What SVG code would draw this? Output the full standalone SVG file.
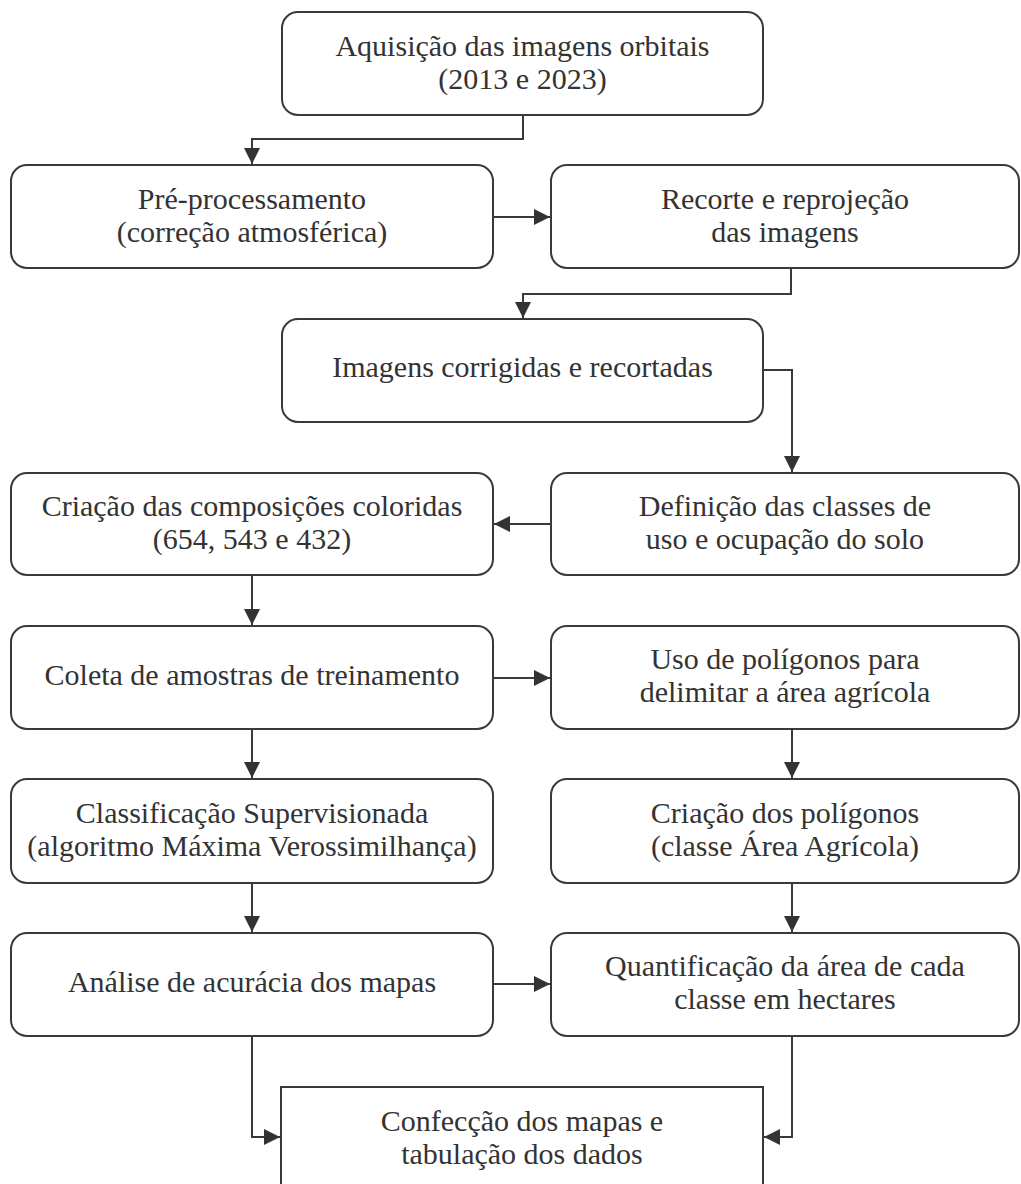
<svg xmlns="http://www.w3.org/2000/svg" width="1021" height="1184" viewBox="0 0 1021 1184">
<defs>
<style>
.box{fill:#fff;stroke:#3a3a3a;stroke-width:2}
.t{font-family:'Liberation Serif','DejaVu Serif',serif;font-size:30px;fill:#333;text-anchor:middle}
.c{fill:none;stroke:#3a3a3a;stroke-width:2}
</style>
<marker id="a" viewBox="0 0 16 16" refX="16" refY="8" markerWidth="16" markerHeight="16" markerUnits="userSpaceOnUse" orient="auto">
<path d="M0,0 L16,8 L0,16 z" fill="#333"/>
</marker>
</defs>
<rect width="1021" height="1184" fill="#fff"/>
<g id="connectors">
<path class="c" d="M523,115 V139 H252 V164" marker-end="url(#a)"/>
<path class="c" d="M493,217 H550" marker-end="url(#a)"/>
<path class="c" d="M791,268 V294 H523 V318" marker-end="url(#a)"/>
<path class="c" d="M763,370 H792 V472" marker-end="url(#a)"/>
<path class="c" d="M551,524 H494" marker-end="url(#a)"/>
<path class="c" d="M252,575 V625" marker-end="url(#a)"/>
<path class="c" d="M493,678 H550" marker-end="url(#a)"/>
<path class="c" d="M252,729 V778" marker-end="url(#a)"/>
<path class="c" d="M792,729 V778" marker-end="url(#a)"/>
<path class="c" d="M252,883 V932" marker-end="url(#a)"/>
<path class="c" d="M792,883 V932" marker-end="url(#a)"/>
<path class="c" d="M493,984 H550" marker-end="url(#a)"/>
<path class="c" d="M252,1036 V1137 H280" marker-end="url(#a)"/>
<path class="c" d="M792,1036 V1137 H764" marker-end="url(#a)"/>
</g>
<g id="n1"><rect class="box" x="282" y="12" width="481" height="103" rx="16"/>
<text class="t" x="522.5" y="56">Aquisição das imagens orbitais</text>
<text class="t" x="522.5" y="89">(2013 e 2023)</text></g>
<g id="n2"><rect class="box" x="11" y="165" width="482" height="103" rx="16"/>
<text class="t" x="252" y="209">Pré-processamento</text>
<text class="t" x="252" y="242">(correção atmosférica)</text></g>
<g id="n3"><rect class="box" x="551" y="165" width="468" height="103" rx="16"/>
<text class="t" x="785" y="209">Recorte e reprojeção</text>
<text class="t" x="785" y="242">das imagens</text></g>
<g id="n4"><rect class="box" x="282" y="319" width="481" height="103" rx="16"/>
<text class="t" x="522.5" y="377">Imagens corrigidas e recortadas</text></g>
<g id="n5"><rect class="box" x="11" y="473" width="482" height="102" rx="16"/>
<text class="t" x="252" y="516">Criação das composições coloridas</text>
<text class="t" x="252" y="549">(654, 543 e 432)</text></g>
<g id="n6"><rect class="box" x="551" y="473" width="468" height="102" rx="16"/>
<text class="t" x="785" y="516">Definição das classes de</text>
<text class="t" x="785" y="549">uso e ocupação do solo</text></g>
<g id="n7"><rect class="box" x="11" y="626" width="482" height="103" rx="16"/>
<text class="t" x="252" y="685">Coleta de amostras de treinamento</text></g>
<g id="n8"><rect class="box" x="551" y="626" width="468" height="103" rx="16"/>
<text class="t" x="785" y="669">Uso de polígonos para</text>
<text class="t" x="785" y="702">delimitar a área agrícola</text></g>
<g id="n9"><rect class="box" x="11" y="779" width="482" height="104" rx="16"/>
<text class="t" x="252" y="823">Classificação Supervisionada</text>
<text class="t" x="252" y="856">(algoritmo Máxima Verossimilhança)</text></g>
<g id="n10"><rect class="box" x="551" y="779" width="468" height="104" rx="16"/>
<text class="t" x="785" y="823">Criação dos polígonos</text>
<text class="t" x="785" y="856">(classe Área Agrícola)</text></g>
<g id="n11"><rect class="box" x="11" y="933" width="482" height="103" rx="16"/>
<text class="t" x="252" y="992">Análise de acurácia dos mapas</text></g>
<g id="n12"><rect class="box" x="551" y="933" width="468" height="103" rx="16"/>
<text class="t" x="785" y="976">Quantificação da área de cada</text>
<text class="t" x="785" y="1009">classe em hectares</text></g>
<g id="n13"><rect class="box" x="281" y="1087" width="482" height="120"/>
<text class="t" x="522" y="1131">Confecção dos mapas e</text>
<text class="t" x="522" y="1164">tabulação dos dados</text></g>
</svg>
